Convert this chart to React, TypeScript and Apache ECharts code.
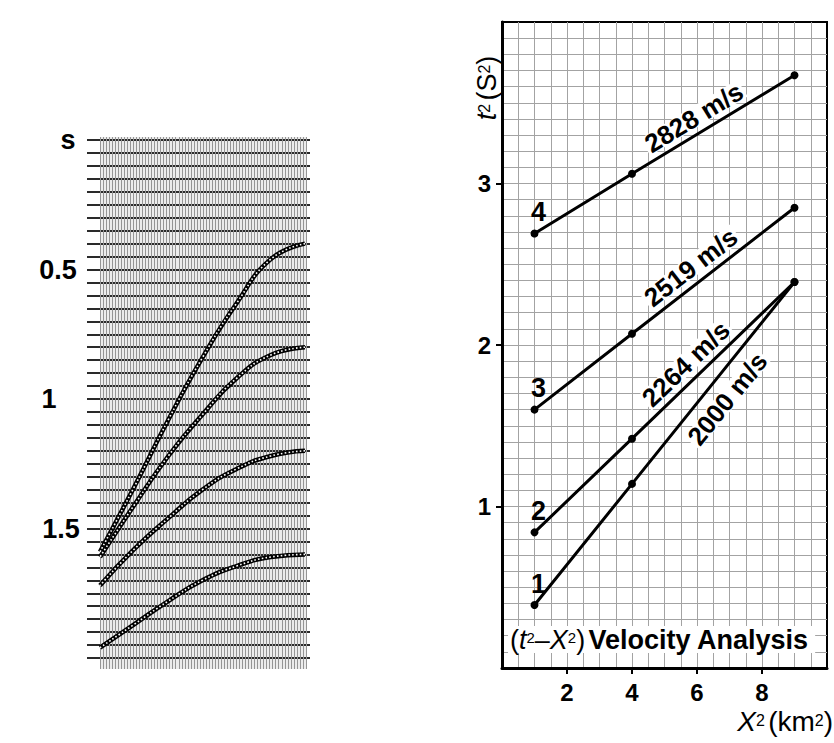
import React, { useEffect, useRef } from "react";
import * as echarts from "echarts";

// ---------- Left panel: reflection times ----------
const offsetsKm = [0, 0.5, 1, 1.5, 2, 2.5, 3];
const timeCurve1 = [0.4, 0.46, 0.63, 0.84, 1.08, 1.34, 1.59];
const timeCurve2 = [0.8, 0.83, 0.92, 1.06, 1.22, 1.41, 1.61];
const timeCurve3 = [1.2, 1.22, 1.27, 1.35, 1.46, 1.58, 1.72];
const timeCurve4 = [1.6, 1.61, 1.645, 1.7, 1.78, 1.87, 1.96];
const curveNames = ["1", "2", "3", "4"];
const timeTickValues = [0, 0.5, 1, 1.5];
const timeTickLabels = ["s", "0.5", "1", "1.5"];

// ---------- Right panel: t² versus x² ----------
const xSquared = [1, 4, 9];
const tSquared1 = [0.39, 1.14, 2.39];
const tSquared2 = [0.84, 1.42, 2.39];
const tSquared3 = [1.6, 2.07, 2.85];
const tSquared4 = [2.69, 3.06, 3.67];
const lineNames = ["1", "2", "3", "4"];
const velocityLabels = ["2000 m/s", "2264 m/s", "2519 m/s", "2828 m/s"];
const x2TickValues = [2, 4, 6, 8];
const t2TickValues = [1, 2, 3];

// ---------- layout ----------
const FONT = '"Liberation Sans", Arial, Helvetica, sans-serif';
const LEFT_TEX = { left: 100, top: 137, width: 206, height: 532 };
const LEFT_LINES = { left: 87, top: 140, width: 223, height: 518 };
const LEFT_CURVES = { left: 100, top: 140, width: 205, height: 518 };
const RIGHT = { left: 502, top: 22, width: 325, height: 646 };
const X2_MAX = 10;
const T2_MAX = 4;
const T_MAX = 2;
const OFF_MAX = 3;
// where each velocity label sits along its line (x² value) and its distance from the line (px)
const labelAnchorX2 = [6.43, 6.01, 6.12, 6.16];
const labelNormalOffset = [-21, 16.5, 16.5, 16];

const timeCurves = [timeCurve1, timeCurve2, timeCurve3, timeCurve4];
const tSquaredLines = [tSquared1, tSquared2, tSquared3, tSquared4];

const rpx = (x: number) => RIGHT.left + (x / X2_MAX) * RIGHT.width;
const rpy = (y: number) => RIGHT.top + RIGHT.height * (1 - y / T2_MAX);

function interp(xs: number[], ys: number[], x: number) {
  for (let i = 0; i < xs.length - 1; i++) {
    if (x >= xs[i] && x <= xs[i + 1]) {
      const f = (x - xs[i]) / (xs[i + 1] - xs[i]);
      return ys[i] + f * (ys[i + 1] - ys[i]);
    }
  }
  return ys[ys.length - 1];
}

function buildOption() {
  const hidden = { show: false };
  const leftSeries: any[] = [];
  timeCurves.forEach((tc, i) => {
    const data = offsetsKm.map((o, k) =>
      k === 0
        ? {
            value: [o, tc[k]],
            label: {
              show: true,
              formatter: curveNames[i],
              position: "top",
              distance: 10,
              offset: [-18, 0],
              fontFamily: FONT,
              fontSize: 26,
              fontWeight: "bold",
              color: "#000",
            },
          }
        : [o, tc[k]]
    );
    leftSeries.push({
      type: "line",
      xAxisIndex: 2,
      yAxisIndex: 2,
      data,
      smooth: true,
      showSymbol: false,
      symbol: "none",
      lineStyle: { color: "#000", width: 4.5 },
      z: 5,
    });
    leftSeries.push({
      type: "line",
      xAxisIndex: 2,
      yAxisIndex: 2,
      data: offsetsKm.map((o, k) => [o, tc[k]]),
      smooth: true,
      showSymbol: false,
      symbol: "none",
      lineStyle: { color: "#fff", width: 1.6, type: [1.6, 2.2] },
      z: 6,
    });
  });

  const rightSeries = tSquaredLines.map((ts, i) => ({
    type: "line",
    xAxisIndex: 4,
    yAxisIndex: 4,
    data: xSquared.map((x, k) =>
      k === 0
        ? {
            value: [x, ts[k]],
            label: {
              show: true,
              formatter: lineNames[i],
              position: "top",
              distance: 4,
              offset: [4, 0],
              fontFamily: FONT,
              fontSize: 27,
              fontWeight: "bold",
              color: "#000",
            },
          }
        : [x, ts[k]]
    ),
    symbol: "circle",
    symbolSize: 8,
    itemStyle: { color: "#000" },
    lineStyle: { color: "#000", width: 3 },
    z: 6,
  }));

  const graphics: any[] = [];
  tSquaredLines.forEach((ts, i) => {
    const slope = (ts[2] - ts[0]) / (xSquared[2] - xSquared[0]);
    const theta = Math.atan2(
      (slope * RIGHT.height) / T2_MAX,
      RIGHT.width / X2_MAX
    );
    const ax = labelAnchorX2[i];
    const px = rpx(ax);
    const py = rpy(interp(xSquared, ts, ax));
    const d = labelNormalOffset[i];
    graphics.push({
      type: "text",
      x: px - d * Math.sin(theta),
      y: py - d * Math.cos(theta),
      rotation: theta,
      z: 20,
      style: {
        text: velocityLabels[i],
        fontFamily: FONT,
        fontSize: 26,
        fontWeight: "bold",
        fill: "#000",
        align: "center",
        verticalAlign: "middle",
        textAlign: "center",
        textVerticalAlign: "middle",
        backgroundColor: "#fff",
        padding: [-3, 2, -3, 2],
      },
    });
  });

  // inside title of the right plot
  graphics.push({
    type: "text",
    x: RIGHT.left + 6,
    y: RIGHT.top + RIGHT.height - 42,
    z: 20,
    style: {
      text: "{p|(}{i|t}{s|2}{p|–}{i|X}{s|2}{p|)} {b|Velocity Analysis}",
      align: "left",
      verticalAlign: "top",
      textAlign: "left",
      textVerticalAlign: "top",
      backgroundColor: "#fff",
      padding: [0, 6, 0, 2],
      rich: {
        p: { fontFamily: FONT, fontSize: 27, color: "#000", fontWeight: "normal" },
        i: { fontFamily: FONT, fontSize: 27, color: "#000", fontStyle: "italic" },
        s: { fontFamily: FONT, fontSize: 15, color: "#000", padding: [0, 0, 4, 0] },
        b: { fontFamily: FONT, fontSize: 27, color: "#000", fontWeight: "bold" },
      },
    },
  });

  // y axis title (rotated)
  graphics.push({
    type: "text",
    x: 487,
    y: 88,
    rotation: Math.PI / 2,
    z: 20,
    style: {
      text: "{i|t}{s|2} {p|(S}{s|2}{p|)}",
      align: "center",
      verticalAlign: "middle",
      textAlign: "center",
      textVerticalAlign: "middle",
      rich: {
        p: { fontFamily: FONT, fontSize: 27, color: "#000" },
        i: { fontFamily: FONT, fontSize: 27, color: "#000", fontStyle: "italic" },
        s: { fontFamily: FONT, fontSize: 16, color: "#000", padding: [0, 0, 6, 0] },
      },
    },
  });

  // x axis title
  graphics.push({
    type: "text",
    x: 833,
    y: 721,
    z: 20,
    style: {
      text: "{i|X}{s|2} {p|(km}{s|2}{p|)}",
      align: "right",
      verticalAlign: "middle",
      textAlign: "right",
      textVerticalAlign: "middle",
      rich: {
        p: { fontFamily: FONT, fontSize: 28, color: "#000" },
        i: { fontFamily: FONT, fontSize: 28, color: "#000", fontStyle: "italic" },
        s: { fontFamily: FONT, fontSize: 16, color: "#000", padding: [0, 0, 2, 0] },
      },
    },
  });

  const labelRich: any = {};
  const pads = [
    [0, 0, 0, 14],
    [0, 6, 0, 0],
    [0, 24, 0, 0],
    [0, 0, 0, 0],
  ];
  timeTickLabels.forEach((_, i) => {
    labelRich["l" + i] = {
      fontFamily: FONT,
      fontSize: 27,
      fontWeight: "bold",
      color: "#000",
      padding: pads[i],
    };
  });

  return {
    animation: false,
    backgroundColor: "#fff",
    grid: [
      {
        ...LEFT_TEX,
        containLabel: false,
        show: true,
        backgroundColor: "#ececec",
        borderWidth: 0,
      },
      { ...LEFT_LINES, containLabel: false },
      { ...LEFT_CURVES, containLabel: false },
      { ...RIGHT, containLabel: false },
      {
        ...RIGHT,
        containLabel: false,
        show: true,
        borderColor: "#000",
        borderWidth: 2,
        backgroundColor: "transparent",
      },
    ],
    xAxis: [
      {
        gridIndex: 0,
        type: "value",
        min: 0,
        max: 68,
        interval: 1,
        axisLine: hidden,
        axisTick: hidden,
        axisLabel: hidden,
        splitLine: { show: true, lineStyle: { color: "#959595", width: 1 } },
      },
      {
        gridIndex: 1,
        type: "value",
        min: 0,
        max: 1,
        axisLine: hidden,
        axisTick: hidden,
        axisLabel: hidden,
        splitLine: hidden,
      },
      {
        gridIndex: 2,
        type: "value",
        min: 0,
        max: OFF_MAX,
        inverse: true,
        show: false,
      },
      {
        gridIndex: 3,
        type: "value",
        min: 0,
        max: X2_MAX,
        interval: 0.5,
        axisLine: hidden,
        axisTick: hidden,
        axisLabel: hidden,
        splitLine: {
          show: true,
          showMinLine: false,
          showMaxLine: false,
          lineStyle: { color: "#a3a3a3", width: 1 },
        },
      },
      {
        gridIndex: 4,
        type: "value",
        min: 0,
        max: X2_MAX,
        interval: 2,
        axisLine: { show: true, lineStyle: { color: "#000", width: 3 } },
        axisTick: {
          show: true,
          customValues: x2TickValues,
          length: 6,
          lineStyle: { color: "#000", width: 2 },
        },
        axisLabel: {
          customValues: x2TickValues,
          fontFamily: FONT,
          fontSize: 24,
          fontWeight: "bold",
          color: "#000",
          margin: 12,
        },
        splitLine: hidden,
        z: 8,
      },
    ],
    yAxis: [
      {
        gridIndex: 0,
        type: "value",
        min: 0,
        max: 1,
        axisLine: hidden,
        axisTick: hidden,
        axisLabel: hidden,
        splitLine: hidden,
      },
      {
        gridIndex: 1,
        type: "value",
        min: 0,
        max: T_MAX,
        interval: 0.05,
        inverse: true,
        axisLine: hidden,
        axisTick: hidden,
        axisLabel: {
          show: true,
          align: "center",
          margin: 26,
          formatter: (v: number) => {
            const i = timeTickValues.findIndex((t) => Math.abs(t - v) < 1e-6);
            return i < 0 ? "" : `{l${i}|${timeTickLabels[i]}}`;
          },
          rich: labelRich,
        },
        splitLine: { show: true, lineStyle: { color: "#2a2a2a", width: 1.8 } },
      },
      {
        gridIndex: 2,
        type: "value",
        min: 0,
        max: T_MAX,
        inverse: true,
        show: false,
      },
      {
        gridIndex: 3,
        type: "value",
        min: 0,
        max: T2_MAX,
        interval: 0.1,
        axisLine: hidden,
        axisTick: hidden,
        axisLabel: hidden,
        splitLine: {
          show: true,
          showMinLine: false,
          showMaxLine: false,
          lineStyle: { color: "#a3a3a3", width: 1 },
        },
      },
      {
        gridIndex: 4,
        type: "value",
        min: 0,
        max: T2_MAX,
        interval: 1,
        axisLine: { show: true, lineStyle: { color: "#000", width: 3 } },
        axisTick: {
          show: true,
          customValues: t2TickValues,
          length: 6,
          lineStyle: { color: "#000", width: 2 },
        },
        axisLabel: {
          customValues: t2TickValues,
          fontFamily: FONT,
          fontSize: 24,
          fontWeight: "bold",
          color: "#000",
          margin: 11,
        },
        splitLine: hidden,
        z: 8,
      },
    ],
    series: [...leftSeries, ...rightSeries],
    graphic: graphics,
  };
}

export default function App() {
  const ref = useRef<HTMLDivElement>(null);
  useEffect(() => {
    if (!ref.current) return;
    const chart = echarts.init(ref.current, undefined, { renderer: "svg" });
    chart.setOption(buildOption() as any);
    return () => chart.dispose();
  }, []);
  return (
    <div
      ref={ref}
      style={{ position: "fixed", left: 0, top: 0, width: 834, height: 743 }}
    />
  );
}
